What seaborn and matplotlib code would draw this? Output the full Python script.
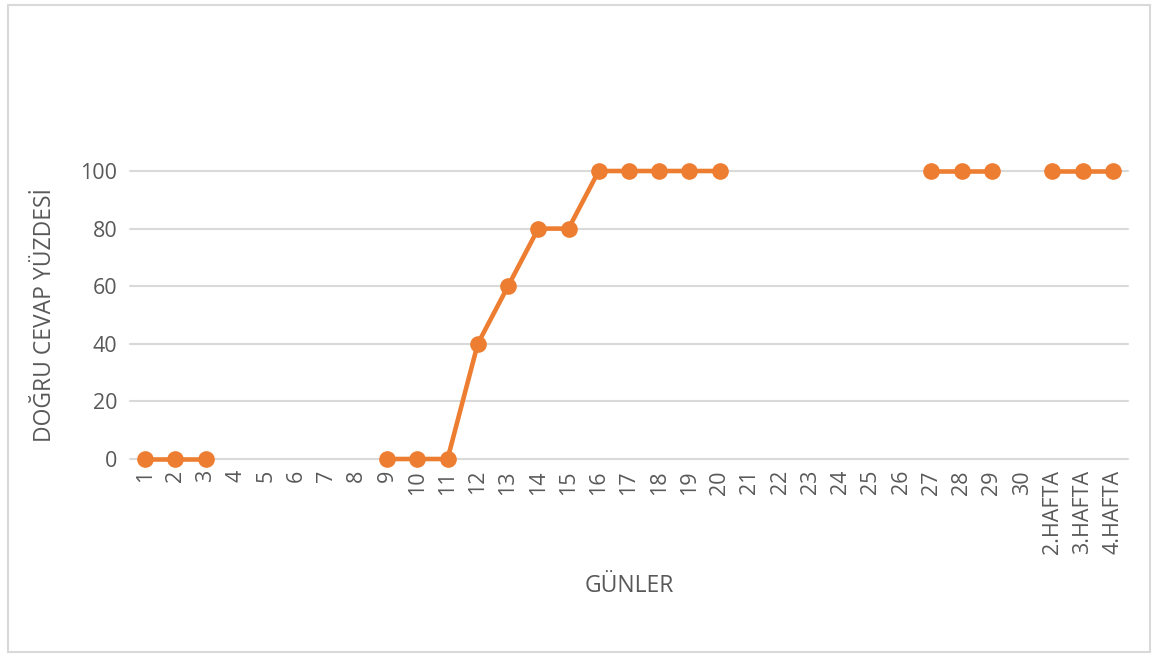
import numpy as np
import pandas as pd
import matplotlib
matplotlib.use("Agg")
import matplotlib.pyplot as plt
import seaborn as sns
from matplotlib.patches import Rectangle

# data
gunler = [str(i) for i in range(1, 31)] + ["2.HAFTA", "3.HAFTA", "4.HAFTA"]
dogru = [0, 0, 0, np.nan, np.nan, np.nan, np.nan, np.nan,
         0, 0, 0, 40, 60, 80, 80, 100, 100, 100, 100, 100,
         np.nan, np.nan, np.nan, np.nan, np.nan, np.nan,
         100, 100, 100, np.nan, 100, 100, 100]

df = pd.DataFrame({"gun": gunler, "yuzde": dogru})
df["x"] = range(len(df))
# break the line where values are missing
df["parca"] = df["yuzde"].isnull().cumsum()
df = df.dropna()

sns.set_style("white")
plt.rcParams["font.family"] = ["Open Sans", "DejaVu Sans"]

fig = plt.figure(figsize=(11.6, 6.57), dpi=100)
ax = fig.add_axes([130/1160, (657-459)/657, (1128-130)/1160, (459-171)/657])

sns.lineplot(data=df, x="x", y="yuzde", units="parca", estimator=None,
             color="#ED7D31", linewidth=3.3, marker="o", markersize=12,
             markeredgewidth=0, ax=ax, clip_on=False, zorder=3)

ax.set_xlim(-0.5, len(gunler) - 0.5)
ax.set_ylim(0, 100)
ax.set_yticks([0, 20, 40, 60, 80, 100])
ax.set_xticks(range(len(gunler)))
ax.set_xticklabels(gunler, rotation=90)
ax.tick_params(axis="both", length=0, labelsize=15.5, colors="#595959")
ax.tick_params(axis="y", pad=9)
ax.tick_params(axis="x", pad=8)
ax.grid(axis="y", color="#D9D9D9", linewidth=1.5)
for gl in ax.get_ygridlines():
    gl.set_clip_on(False)
ax.set_axisbelow(True)
for s in ax.spines.values():
    s.set_visible(False)

ax.set_xlabel("GÜNLER", fontsize=16.5, color="#595959", labelpad=14)
ax.set_ylabel("DOĞRU CEVAP YÜZDESİ", fontsize=16.5, color="#595959", labelpad=17)

# outer chart border
fig.patches.append(Rectangle((8/1160, 5/657), 1142/1160, 647/657,
                             transform=fig.transFigure, fill=False,
                             edgecolor="#D9D9D9", linewidth=1.5))

fig.savefig("out.png", dpi=100)
